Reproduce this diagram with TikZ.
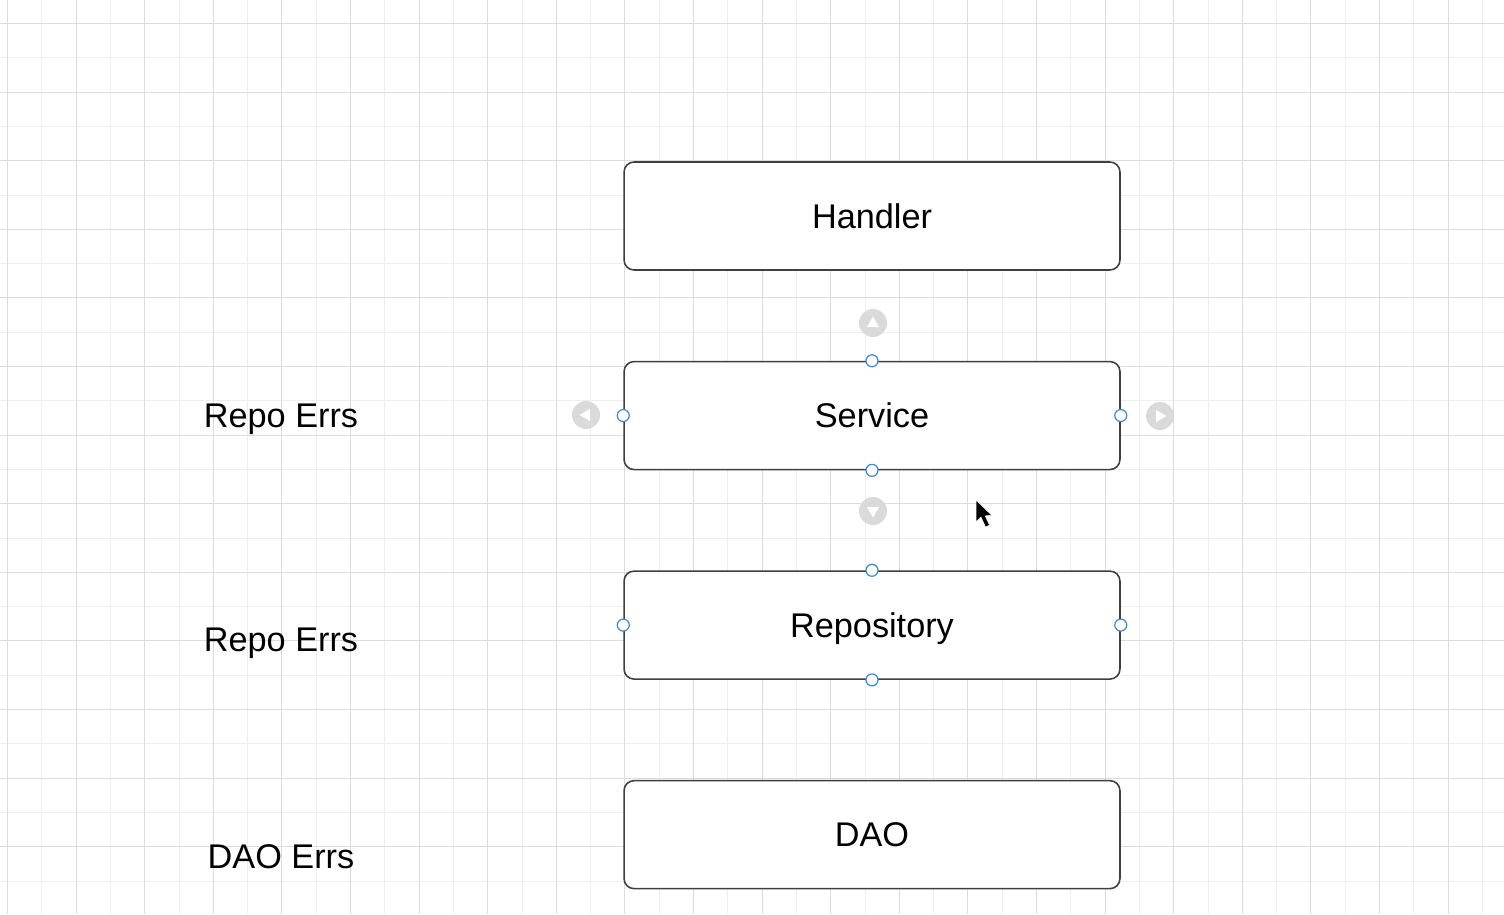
\documentclass[tikz,border=0pt]{standalone}
\usepackage{fontspec}
\setmainfont{Liberation Sans}
\usetikzlibrary{positioning}

\definecolor{gridminor}{HTML}{EEEEF0}
\definecolor{gridmajor}{HTML}{DCDCDE}
\definecolor{boxline}{HTML}{3F3F3F}
\definecolor{handleblue}{HTML}{3D8BD6}
\definecolor{hintgray}{HTML}{DADADA}

\tikzset{
    gridline/.style={line width=0.03cm},
    labeltext/.style={font=\fontsize{19.5}{22}\selectfont, text height=13.96pt, text depth=0pt},
    layerbox/.style={labeltext, draw=boxline, line width=0.9pt, fill=white, rounded corners=0.2cm,
        minimum width=9.92cm, minimum height=2.16cm, inner sep=0pt},
    errlabel/.style={labeltext, inner sep=0pt},
    handle/.style={circle, draw=handleblue, line width=0.7pt, fill=white,
        minimum size=0.24cm, inner sep=0pt},
    hint/.style={circle, fill=hintgray, minimum size=0.56cm, inner sep=0pt}
}

\begin{document}
\begin{tikzpicture}[x=0.02cm, y=-0.02cm]
        \useasboundingbox (0,0) rectangle (1504,914);
        \fill[white] (0,0) rectangle (1504,914);

        % Grid (snapped to whole pixels)
        \foreach \i [evaluate=\i as \gx using {round(7+34.3*\i)+0.5}] in {0,...,43}
            \draw[gridline, gridminor] (\gx,0) -- (\gx,914);
        \foreach \i [evaluate=\i as \gy using {round(-11.3+34.3*\i)+0.5}] in {1,...,27}
            \draw[gridline, gridminor] (0,\gy) -- (1504,\gy);
        \foreach \i [evaluate=\i as \gx using {round(7+34.3*\i)+0.5}] in {0,2,...,42}
            \draw[gridline, gridmajor] (\gx,0) -- (\gx,914);
        \foreach \i [evaluate=\i as \gy using {round(-11.3+34.3*\i)+0.5}] in {1,3,...,27}
            \draw[gridline, gridmajor] (0,\gy) -- (1504,\gy);

        % Layers
        \node[layerbox] (handler) at (872,216) {Handler};
        \node[layerbox, below=1.80cm of handler] (service) {Service};
        \node[layerbox, below=2.00cm of service] (repository) {Repository};
        \node[layerbox, below=2.00cm of repository] (dao) {DAO};

        % Error labels
        \node[errlabel] (repoErrA) at (281,415) {Repo Errs};
        \node[errlabel] (repoErrB) at (281,639) {Repo Errs};
        \node[errlabel] (daoErr) at (281,856) {DAO Errs};

        % Hover arrows round the selected box
        \node[hint] (hintUp) at (873,323) {};
        \node[hint] (hintDown) at (873,511) {};
        \node[hint] (hintLeft) at (586,415) {};
        \node[hint] (hintRight) at (1160,416) {};
        \fill[white] ([yshift=0.13cm]hintUp.center) -- ++(-0.12cm,-0.21cm) -- ++(0.24cm,0) -- cycle;
        \fill[white] ([yshift=-0.13cm]hintDown.center) -- ++(-0.12cm,0.21cm) -- ++(0.24cm,0) -- cycle;
        \fill[white] ([xshift=-0.13cm]hintLeft.center) -- ++(0.21cm,0.12cm) -- ++(0,-0.24cm) -- cycle;
        \fill[white] ([xshift=0.13cm]hintRight.center) -- ++(-0.21cm,0.12cm) -- ++(0,-0.24cm) -- cycle;

        % Connection handles
        \foreach \b in {service, repository}
            \foreach \a in {north, south, east, west}
                \node[handle] at (\b.\a) {};

        % Mouse pointer
        \filldraw[black, draw=white, line width=0.3pt] (976,500) -- (976,522) -- (981,517)
            -- (985.5,527) -- (989.5,525.2) -- (985.2,515.8) -- (992,515.5) -- cycle;
    \end{tikzpicture}
\end{document}
